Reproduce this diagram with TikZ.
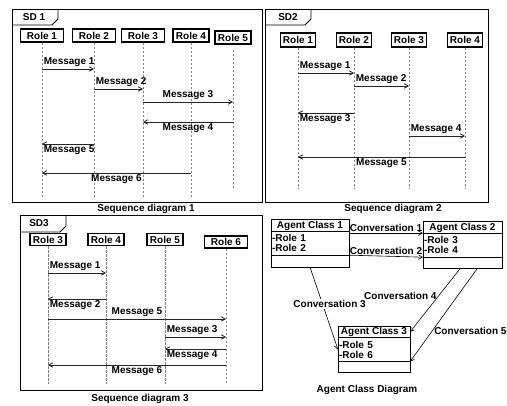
\documentclass[tikz,border=0pt]{standalone}
\usepackage{fontspec}
\setmainfont{Liberation Sans}
\usepackage{tikz}
\usetikzlibrary{arrows.meta,positioning,calc}

\begin{document}
\begin{tikzpicture}[x=1pt, y=-1pt, font=\bfseries\fontsize{10}{12}\selectfont,
  frame/.style={draw, line width=0.9pt},
  role/.style={draw, line width=1.3pt, minimum height=13pt, inner sep=1pt},
  life/.style={draw=gray, dash pattern=on 2.5pt off 1.5pt, line width=0.8pt},
  msg/.style={-{Straight Barb[length=4pt,width=4.5pt]}, line width=0.8pt, draw=black!85},
  lbl/.style={inner sep=1.5pt},
  cls/.style={draw, line width=0.9pt, inner sep=1pt, outer sep=0pt},
  clsbody/.style={cls, align=left, font=\bfseries\fontsize{10}{10}\selectfont},
  conv/.style={-{Straight Barb[length=4pt,width=4.5pt]}, line width=0.6pt}]
  \useasboundingbox (0,0) rectangle (507,406);

  % SD 1
  \draw[frame] (12,9) rectangle (262,202);
  \draw[frame] (12,25) -- (52,25) -- (58,19) -- (58,9);
  \node (sd1) at (34,17) {SD 1};
  \node[role, minimum width=43pt] (a1) at (42,35.5) {Role 1};
  \node[role, minimum width=43pt] (a2) at (94,35.5) {Role 2};
  \node[role, minimum width=43pt] (a3) at (143,35.5) {Role 3};
  \node[role, minimum width=36pt] (a4) at (191,35.5) {Role 4};
  \node[role, minimum width=36pt] (a5) at (233,37.5) {Role 5};
  \draw[life] (a1.south) -- (a1 |- 0,197);
  \draw[life] (a2.south) -- (a2 |- 0,197);
  \draw[life] (a3.south) -- (a3 |- 0,197);
  \draw[life] (a4.south) -- (a4 |- 0,197);
  \draw[life] (a5 |- 0,50) -- (a5 |- 0,188);
  \draw[msg] (a1 |- 0,69) -- (a2 |- 0,69) node[lbl, pos=0, anchor=south west] {Message 1};
  \draw[msg] (a2 |- 0,89) -- (a3 |- 0,89) node[lbl, pos=0, anchor=south west] {Message 2};
  \draw[msg] (a3 |- 0,102) -- (a5 |- 0,102) node[lbl, midway, anchor=south] {Message 3};
  \draw[msg] (a5 |- 0,122) -- (a3 |- 0,122) node[lbl, midway, anchor=north] {Message 4};
  \draw[msg] (a2 |- 0,144) -- (a1 |- 0,144) node[lbl, pos=1, anchor=north west] {Message 5};
  \draw[msg] (a4 |- 0,173) -- (a1 |- 0,173) node[lbl, midway, anchor=north] {Message 6};
  \node (cap1) at (146,209) {Sequence diagram 1};

  % SD 2
  \draw[frame] (265,9) rectangle (488,202);
  \draw[frame] (265,25) -- (305,25) -- (311,19) -- (311,9);
  \node (sd2) at (288,17) {SD2};
  \node[role, minimum width=35pt, minimum height=14pt] (b1) at (298,40) {Role 1};
  \node[role, minimum width=35pt, minimum height=14pt] (b2) at (354,40) {Role 2};
  \node[role, minimum width=35pt, minimum height=14pt] (b3) at (409,40) {Role 3};
  \node[role, minimum width=35pt, minimum height=14pt] (b4) at (465,40) {Role 4};
  \draw[life] (b1.south) -- (b1 |- 0,188);
  \draw[life] (b2.south) -- (b2 |- 0,188);
  \draw[life] (b3.south) -- (b3 |- 0,188);
  \draw[life] (b4.south) -- (b4 |- 0,188);
  \draw[msg] (b1 |- 0,73) -- (b2 |- 0,73) node[lbl, pos=0, anchor=south west] {Message 1};
  \draw[msg] (b2 |- 0,86) -- (b3 |- 0,86) node[lbl, pos=0, anchor=south west] {Message 2};
  \draw[msg] (b2 |- 0,113) -- (b1 |- 0,113) node[lbl, pos=1, anchor=north west] {Message 3};
  \draw[msg] (b3 |- 0,136) -- (b4 |- 0,136) node[lbl, pos=0, anchor=south west] {Message 4};
  \draw[msg] (b4 |- 0,157) -- (b1 |- 0,157) node[lbl, midway, anchor=north] {Message 5};
  \node (cap2) at (393,209) {Sequence diagram 2};

  % SD 3
  \draw[frame] (20,215) rectangle (262,390);
  \draw[frame] (20,232) -- (60,232) -- (66,226) -- (66,215);
  \node (sd3) at (39,223) {SD3};
  \node[role, minimum width=36pt, minimum height=12pt] (c3) at (48,239.5) {Role 3};
  \node[role, minimum width=36pt, minimum height=12pt] (c4) at (106,239.5) {Role 4};
  \node[role, minimum width=36pt, minimum height=12pt] (c5) at (165,239.5) {Role 5};
  \node[role, minimum width=43pt, minimum height=12pt] (c6) at (226,242) {Role 6};
  \draw[life] (c3.south) -- (c3 |- 0,384);
  \draw[life] (c4.south) -- (c4 |- 0,384);
  \draw[life] (c5.south) -- (c5 |- 0,384);
  \draw[life] (c6.south) -- (c6 |- 0,384);
  \draw[msg] (c3 |- 0,273) -- (c4 |- 0,273) node[lbl, pos=0, anchor=south west] {Message 1};
  \draw[msg] (c4 |- 0,299) -- (c3 |- 0,299) node[lbl, pos=1, anchor=north west] {Message 2};
  \draw[msg] (c3 |- 0,319) -- (c6 |- 0,319) node[lbl, midway, anchor=south] {Message 5};
  \draw[msg] (c5 |- 0,337) -- (c6 |- 0,337) node[lbl, pos=0, anchor=south west] {Message 3};
  \draw[msg] (c6 |- 0,349) -- (c5 |- 0,349) node[lbl, pos=1, anchor=north west] {Message 4};
  \draw[msg] (c6 |- 0,365) -- (c3 |- 0,365) node[lbl, midway, anchor=north] {Message 6};
  \node (cap3) at (140,399) {Sequence diagram 3};

  % Agent classes
  \node[cls, minimum width=78pt, minimum height=11pt] (ac1) at (310,225.5) {Agent Class 1};
  \node[clsbody, below=0pt of ac1, text width=76pt, minimum height=24pt] (ac1r) {-Role 1\\-Role 2};
  \node[cls, below=0pt of ac1r, minimum width=78pt, minimum height=12pt] (ac1f) {};
  \node[cls, minimum width=79pt, minimum height=11pt] (ac2) at (462.5,227.5) {Agent Class 2};
  \node[clsbody, below=0pt of ac2, text width=77pt, minimum height=24pt] (ac2r) {-Role 3\\-Role 4};
  \node[cls, below=0pt of ac2r, minimum width=79pt, minimum height=11pt] (ac2f) {};
  \node[cls, minimum width=72pt, minimum height=10pt] (ac3) at (374,332) {Agent Class 3};
  \node[clsbody, below=0pt of ac3, text width=70pt, minimum height=24pt] (ac3r) {-Role 5\\-Role 6};
  \node[cls, below=0pt of ac3r, minimum width=72pt, minimum height=11pt] (ac3f) {};

  \draw[conv] (ac1r.east |- ac2r.north) -- (ac2r.north west) node[lbl, midway, above] {Conversation 1};
  \draw[conv] (ac1f.north east) -- (ac2f.north west) node[lbl, midway, above] {Conversation 2};
  \draw[conv] (ac1f.south) -- (ac3r.west) node[lbl, pos=0.45, xshift=7pt, fill=white] {Conversation 3};
  \draw[conv] ([xshift=-2pt]ac2f.south) -- (ac3.east) node[lbl, pos=0.44, anchor=east] {Conversation 4};
  \draw[conv] ([xshift=15pt]ac2f.south) -- (ac3r.south east) node[lbl, pos=0.667, anchor=west] {Conversation 5};
  \node (cap4) at (367,390) {Agent Class Diagram};
\end{tikzpicture}
\end{document}
